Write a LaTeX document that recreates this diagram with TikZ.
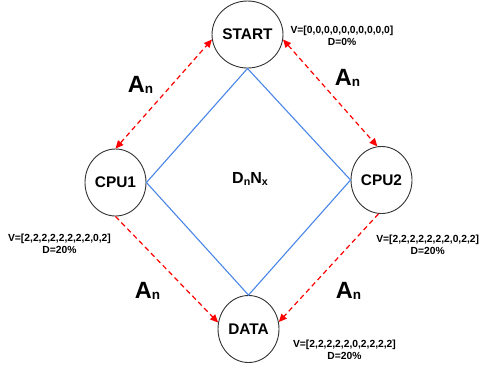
\documentclass[tikz,border=0pt]{standalone}
\usepackage{fontspec}
\setmainfont{Liberation Sans}
\usetikzlibrary{shapes.geometric,arrows.meta}
\definecolor{circ}{HTML}{333333}
\definecolor{blueline}{HTML}{4A86E8}
\definecolor{redarrow}{HTML}{FF0000}
\tikzset{
 state/.style={ellipse,draw=circ,line width=0.9pt,minimum width=61pt,minimum height=67pt,inner sep=0pt,font=\fontsize{15.4}{18}\selectfont\bfseries},
 vlabel/.style={align=center,inner sep=0pt,font=\fontsize{10.3}{12.3}\selectfont\bfseries},
 alabel/.style={anchor=base,inner sep=0pt,font=\fontsize{23.5}{26}\selectfont\bfseries},
 dnlabel/.style={anchor=base,inner sep=0pt,font=\fontsize{16}{18}\selectfont\bfseries},
 blueedge/.style={draw=blueline,line width=1.1pt},
 redbase/.style={draw=redarrow,line width=1.2pt,dash pattern=on 5pt off 3.5pt},
 redboth/.style={redbase,{Triangle[length=8pt,width=7pt]}-{Triangle[length=8pt,width=7pt]}},
 redone/.style={redbase,-{Triangle[length=8pt,width=7pt]}},
}
\newcommand{\An}{A\raisebox{-1.5pt}{\fontsize{13.5}{14}\selectfont n}}
\begin{document}
\begin{tikzpicture}[x=1pt,y=-1pt]
\useasboundingbox (0,0) rectangle (481,368);
\node[state] (start) at (247.5,34.5) {START};
\node[state] (cpu1) at (115.5,182.5) {CPU1};
\node[state] (cpu2) at (381.5,180) {CPU2};
\node[state] (data) at (248.5,329) {DATA};

\draw[blueedge] (start.south) -- (cpu1.east) -- (data.north) -- (cpu2.west) -- (start.south);

\draw[redboth] (cpu1.north) -- (start.188);
\draw[redboth] (start.352) -- (cpu2.97);
\draw[redone] (cpu1.south) -- (data.168);
\draw[redone] (cpu2.265) -- (data.13);

\node[vlabel] (vstart) at (342,35.5) {V=[0,0,0,0,0,0,0,0,0,0]\\D=0\%};
\node[vlabel] (vcpu1) at (59.5,244) {V=[2,2,2,2,2,2,2,2,0,2]\\D=20\%};
\node[vlabel] (vcpu2) at (427.7,245) {V=[2,2,2,2,2,2,2,0,2,2]\\D=20\%};
\node[vlabel] (vdata) at (344.5,349.5) {V=[2,2,2,2,2,0,2,2,2,2]\\D=20\%};

\node[alabel] (a1) at (140.5,92) {\An};
\node[alabel] (a2) at (347.5,85) {\An};
\node[alabel] (a3) at (147.5,298) {\An};
\node[alabel] (a4) at (348.5,298) {\An};

\node[dnlabel] (dn) at (250,183.5) {D\raisebox{-1.5pt}{\fontsize{10.7}{12}\selectfont n}N\raisebox{-1.5pt}{\fontsize{10.7}{12}\selectfont x}};
\end{tikzpicture}
\end{document}
